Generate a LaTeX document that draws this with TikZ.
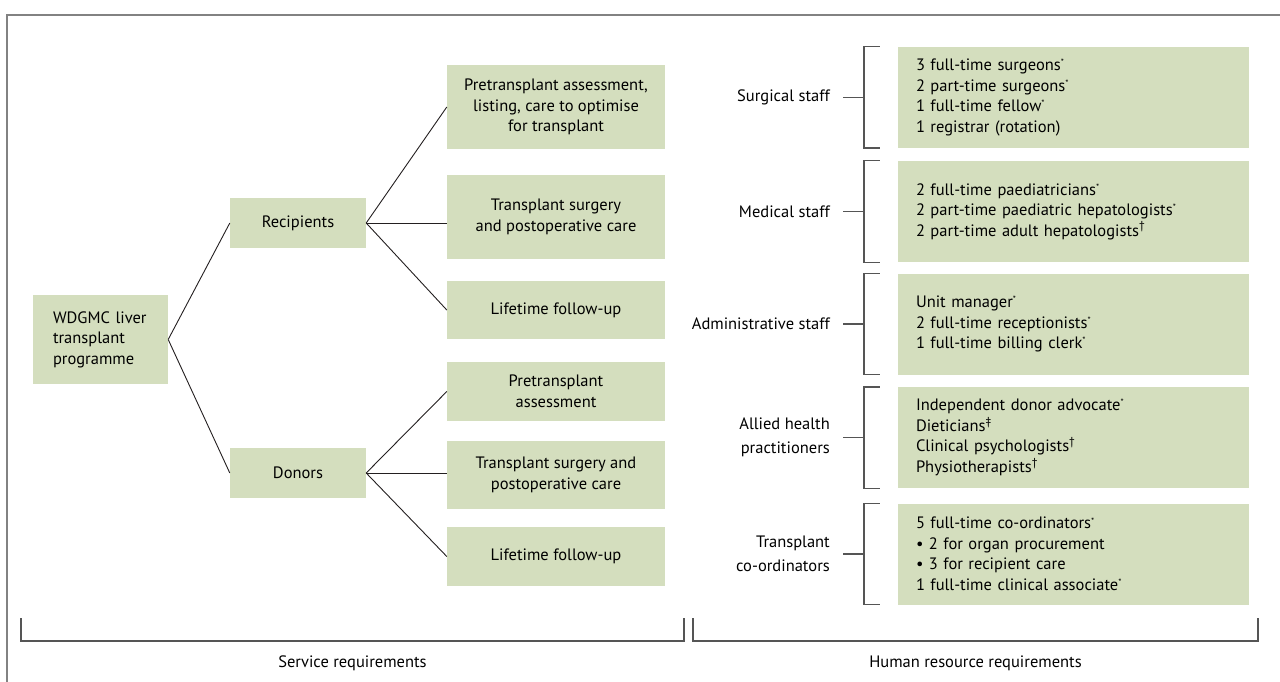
\documentclass[tikz,border=0pt]{standalone}
\usepackage{fontspec}
\setmainfont{PT Sans}
\definecolor{boxgreen}{RGB}{212,222,190}
\definecolor{framegray}{RGB}{130,130,130}
\definecolor{brkgray}{RGB}{85,85,85}
\definecolor{linedark}{RGB}{35,31,32}
\newcommand{\supast}{\raisebox{0.3em}{\fontsize{9}{9}\selectfont *}}
\newcommand{\supdag}{\textsuperscript{\textdagger}}
\newcommand{\supddag}{\textsuperscript{\textdaggerdbl}}
\tikzset{
  greenbox/.style={fill=boxgreen, inner sep=0pt, align=center, font=\fontsize{16.5}{20.5}\selectfont},
  treebox/.style={greenbox, minimum width=218pt},
  listbox/.style={greenbox, text width=315pt, inner xsep=18pt, align=left, minimum height=101pt},
  lab/.style={inner sep=0pt, anchor=east, align=right, font=\fontsize{16.5}{24}\selectfont},
  conn/.style={linedark, line width=0.9pt},
  brk/.style={brkgray, line width=1.4pt},
  frame/.style={framegray, line width=1.5pt}
}
\begin{document}
\begin{tikzpicture}[x=1pt,y=-1pt]
\useasboundingbox (0,0) rectangle (1280,682);
%outer frame
\draw[frame] (7,682) -- (7,15) -- (1280,15);
%dimensions of the right hand lists
\pgfmathsetmacro{\lx}{1073.5}  %centre of list boxes
\pgfmathsetmacro{\labx}{830}   %right edge of list labels
%----------------------
%========================
%service tree
\node[greenbox, minimum width=135pt, minimum height=89pt, text width=95pt, inner xsep=20pt, align=left] (prog) at (100.5,339.5) {WDGMC liver\\transplant\\programme};
\node[greenbox, minimum width=136pt, minimum height=50pt] (rec) at (298,223) {Recipients};
\node[greenbox, minimum width=136pt, minimum height=50pt] (don) at (298,473) {Donors};
%recipient branch
\node[treebox, minimum height=84pt] (r1) at (556,107) {Pretransplant assessment,\\listing, care to optimise\\for transplant};
\node[treebox, minimum height=84pt] (r2) at (556,217) {Transplant surgery\\and postoperative care};
\node[treebox, minimum height=58pt] (r3) at (556,310) {Lifetime follow-up};
%donor branch
\node[treebox, minimum height=59pt] (d1) at (556,391.5) {Pretransplant\\assessment};
\node[treebox, minimum height=68pt] (d2) at (556,475) {Transplant surgery and\\postoperative care};
\node[treebox, minimum height=59pt] (d3) at (556,556.5) {Lifetime follow-up};
%connectors
\draw[conn] (prog.east) -- (rec.west);
\draw[conn] (prog.east) -- (don.west);
\draw[conn] (rec.east) -- (r1.west);
\draw[conn] (rec.east) -- (rec.east -| r2.west);
\draw[conn] (rec.east) -- (r3.west);
\draw[conn] (don.east) -- (d1.west);
\draw[conn] (don.east) -- (don.east -| d2.west);
\draw[conn] (don.east) -- (d3.west);
%========================
%human resource lists
\node[listbox] (s1) at (\lx,97.5) {3 full-time surgeons\supast\\2 part-time surgeons\supast\\1 full-time fellow\supast\\1 registrar (rotation)};
\node[listbox] (s2) at (\lx,211.5) {2 full-time paediatricians\supast\\2 part-time paediatric hepatologists\supast\\2 part-time adult hepatologists\supdag};
\node[listbox] (s3) at (\lx,324) {Unit manager\supast\\2 full-time receptionists\supast\\1 full-time billing clerk\supast};
\node[listbox] (s4) at (\lx,437.5) {Independent donor advocate\supast\\Dieticians\supddag\\Clinical psychologists\supdag\\Physiotherapists\supdag};
\node[listbox] (s5) at (\lx,554) {5 full-time co-ordinators\supast\\\textbullet\ 2 for organ procurement\\\textbullet\ 3 for recipient care\\1 full-time clinical associate\supast};
%labels
\node[lab] (sl1) at (\labx,97.5) {Surgical staff};
\node[lab] (sl2) at (\labx,211.5) {Medical staff};
\node[lab] (sl3) at (\labx,324) {Administrative staff};
\node[lab] (sl4) at (\labx,437.5) {Allied health\\practitioners};
\node[lab] (sl5) at (\labx,554) {Transplant\\co-ordinators};
%brackets
\foreach \n in {1,...,5}{
\draw[brk] ([xshift=-18pt]s\n.north west) -- ([xshift=-34pt]s\n.north west) -- ([xshift=-34pt]s\n.south west) -- ([xshift=-18pt]s\n.south west);
\draw[brk] ([xshift=13pt]sl\n.east) -- ([xshift=-34pt]s\n.west);
}
%==========================
%bottom brackets and text
\draw[brk] (21,618) -- (21,641) -- (684,641) -- (684,618);
\draw[brk] (693,618) -- (693,641) -- (1258,641) -- (1258,618);
\node[font=\fontsize{16.5}{20.5}\selectfont] (srv) at (352.5,663) {Service requirements};
\node[font=\fontsize{16.5}{20.5}\selectfont] (hr) at (975.5,663) {Human resource requirements};
\end{tikzpicture}
\end{document}
